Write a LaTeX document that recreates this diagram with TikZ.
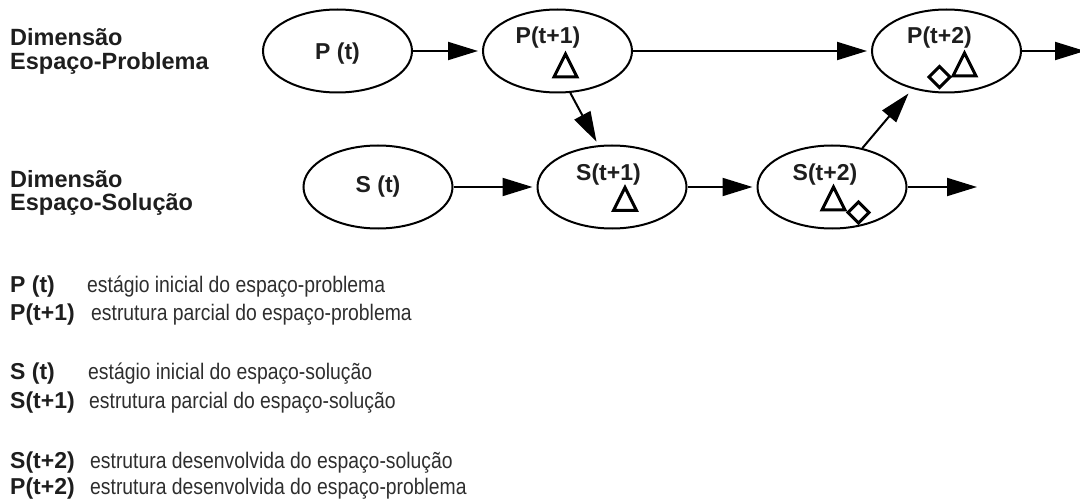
\documentclass[tikz,border=0pt]{standalone}
\usepackage{fontspec}
\setmainfont{Liberation Sans}
\newfontfamily\descfont[FakeStretch=0.86]{Liberation Sans}
\usetikzlibrary{arrows.meta,shapes.geometric}
\definecolor{txt}{HTML}{1E1E1E}
\definecolor{desctxt}{HTML}{2E2E2E}

\begin{document}
\begin{tikzpicture}[x=1pt,y=-1pt,
  stage/.style={draw=black, line width=2pt, ellipse, minimum width=149pt,
    minimum height=83pt, inner sep=0pt},
  lbl/.style={font=\fontsize{23}{23}\selectfont\bfseries, anchor=base,
    inner sep=0pt, text=txt},
  dimtitle/.style={font=\fontsize{23.5}{23.5}\selectfont\bfseries,
    anchor=base west, inner sep=0pt, text=txt},
  key/.style={font=\fontsize{23}{23}\selectfont\bfseries,
    anchor=base west, inner sep=0pt, text=txt},
  desc/.style={font=\fontsize{22.5}{22.5}\selectfont\descfont,
    anchor=base west, inner sep=0pt, text=desctxt},
  flow/.style={line width=2pt, -{Triangle[length=30pt,width=18pt]},
    shorten >=4pt},
  glyph/.style={draw=black, line width=3pt, line join=miter},
]
\clip (0,0) rectangle (1080,500);

% row titles
\node[dimtitle] (dimP) at (10,46)   {Dimensão};
\node[dimtitle] (espP) at (10,69.5) {Espaço-Problema};
\node[dimtitle] (dimS) at (10,187.5) {Dimensão};
\node[dimtitle] (espS) at (10,211)   {Espaço-Solução};

% problem-space stages
\node[stage] (pt)  at (337.5,51) {};
\node[stage] (pt1) at (557.5,51) {};
\node[stage] (pt2) at (946.5,51) {};
% solution-space stages
\node[stage] (st)  at (378,187) {};
\node[stage] (st1) at (612,187) {};
\node[stage] (st2) at (832,187) {};

% stage labels
\node[lbl] (lpt)  at (337.5,60)   {P (t)};
\node[lbl] (lpt1) at (548,43.5)   {P(t+1)};
\node[lbl] (lpt2) at (939.5,43.5) {P(t+2)};
\node[lbl] (lst)  at (378,193)    {S (t)};
\node[lbl] (lst1) at (608.5,181)  {S(t+1)};
\node[lbl] (lst2) at (825,180.5)  {S(t+2)};

% structure marks: triangles and diamonds
\draw[glyph, shift={(565.5,65.5)}] (-11.5,11.5) -- (11.5,11.5) -- (0,-11.5) -- cycle;
\draw[glyph, shift={(625,199)}]    (-11.5,11.5) -- (11.5,11.5) -- (0,-11.5) -- cycle;
\draw[glyph, shift={(833.5,198.5)}] (-11.5,11.5) -- (11.5,11.5) -- (0,-11.5) -- cycle;
\draw[glyph, shift={(858.5,212.5)}] (-10.5,0) -- (0,-10.5) -- (10.5,0) -- (0,10.5) -- cycle;
\draw[glyph, shift={(964.5,64.5)}] (-11.5,11.5) -- (11.5,11.5) -- (0,-11.5) -- cycle;
\draw[glyph, shift={(939.5,77)}]   (-10.5,0) -- (0,-10.5) -- (10.5,0) -- (0,10.5) -- cycle;

% open ends
\coordinate (sout) at (977,187);
\coordinate (pout) at (1085,51);

% connectors
\draw[flow] (pt) -- (pt1);
\draw[flow] (pt1) -- (pt2);
\draw[flow] (pt1.-73) -- (st1.108);
\draw[flow] (st) -- (st1);
\draw[flow] (st1) -- (st2);
\draw[flow, shorten >=6pt] (st2.52) -- (pt2.-132);
\draw[flow, shorten >=0pt] (st2.east) -- (sout);
\draw[flow, shorten >=0pt] (pt2.east) -- (pout);

% legend
\node[key]  (kpt)  at (10,292)   {P (t)};
\node[desc] (dpt)  at (87,292)   {estágio inicial do espaço-problema};
\node[key]  (kpt1) at (10,320)   {P(t+1)};
\node[desc] (dpt1) at (91,320)   {estrutura parcial do espaço-problema};
\node[key]  (kst)  at (10,379.5) {S (t)};
\node[desc] (dst)  at (88,379.5) {estágio inicial do espaço-solução};
\node[key]  (kst1) at (10,408)   {S(t+1)};
\node[desc] (dst1) at (89,408)   {estrutura parcial do espaço-solução};
\node[key]  (kst2) at (10,468)   {S(t+2)};
\node[desc] (dst2) at (90,468)   {estrutura desenvolvida do espaço-solução};
\node[key]  (kpt2) at (10,494)   {P(t+2)};
\node[desc] (dpt2) at (90,494)   {estrutura desenvolvida do espaço-problema};
\end{tikzpicture}
\end{document}
